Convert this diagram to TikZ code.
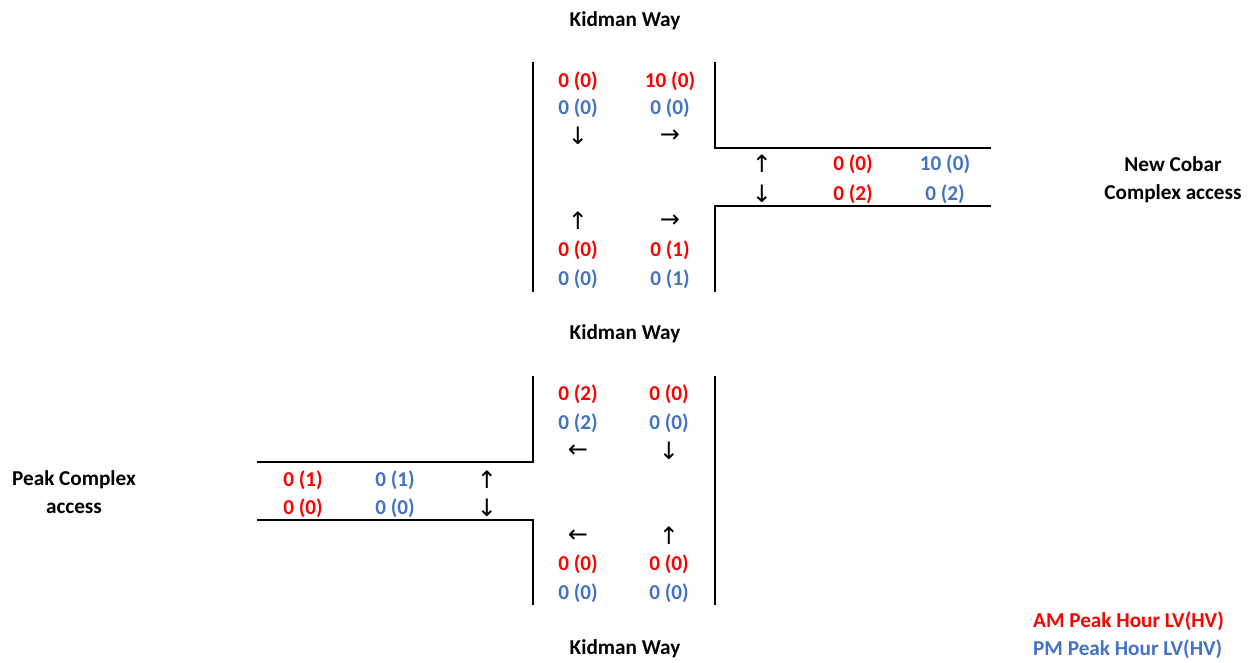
\documentclass[tikz,border=0pt]{standalone}
\usepackage{fontspec}
\setmainfont{Carlito}
\newfontfamily\arrowfont{DejaVu Sans}
\definecolor{amred}{HTML}{FF0000}
\definecolor{pmblue}{HTML}{4472C4}
\begin{document}
\begin{tikzpicture}[x=1pt,y=-1pt,
  lbl/.style={inner sep=0pt,font=\fontsize{21.2}{25}\selectfont\bfseries},
  am/.style={lbl,text=amred},
  pm/.style={lbl,text=pmblue},
  dir/.style={inner sep=0pt,font=\fontsize{24}{26}\selectfont\arrowfont},
  road/.style={line width=2pt}]
\useasboundingbox (0,0) rectangle (1250,662);

% ---- northern intersection: Kidman Way with New Cobar Complex access ----
\draw[road] (533,62) -- (533,292);
\draw[road] (715,62) -- (715,148) -- (991,148);
\draw[road] (991,206) -- (715,206) -- (715,292);

\node[lbl] (kwTop) at (625,21) {Kidman Way};
\node[lbl] (kwMid) at (625,334) {Kidman Way};

\node[am] (nA1) at (578,81) {0 (0)};
\node[am] (nA2) at (670,81) {10 (0)};
\node[pm] (nP1) at (578,108) {0 (0)};
\node[pm] (nP2) at (670,108) {0 (0)};
\node[dir] (nD1) at (578,136) {↓};
\node[dir] (nD2) at (670,136) {→};

\node[dir] (sD1) at (578,221) {↑};
\node[dir] (sD2) at (670,221) {→};
\node[am] (sA1) at (578,250) {0 (0)};
\node[am] (sA2) at (670,250) {0 (1)};
\node[pm] (sP1) at (578,279) {0 (0)};
\node[pm] (sP2) at (670,279) {0 (1)};

\node[dir] (eD1) at (762,164) {↑};
\node[dir] (eD2) at (762,194) {↓};
\node[am] (eA1) at (853,164) {0 (0)};
\node[am] (eA2) at (853,194) {0 (2)};
\node[pm] (eP1) at (945,164) {10 (0)};
\node[pm] (eP2) at (945,194) {0 (2)};

\node[lbl] (ncA) at (1173,164) {New Cobar};
\node[lbl] (ncB) at (1173,194) {Complex access};

% ---- southern intersection: Kidman Way with Peak Complex access ----
\draw[road] (533,376) -- (533,462) -- (257,462);
\draw[road] (257,520) -- (533,520) -- (533,605);
\draw[road] (715,376) -- (715,605);

\node[lbl] (kwBot) at (625,649) {Kidman Way};

\node[am] (bA1) at (578,394) {0 (2)};
\node[am] (bA2) at (669,394) {0 (0)};
\node[pm] (bP1) at (578,423) {0 (2)};
\node[pm] (bP2) at (669,423) {0 (0)};
\node[dir] (bD1) at (578,451) {←};
\node[dir] (bD2) at (669,451) {↓};

\node[dir] (cD1) at (578,536) {←};
\node[dir] (cD2) at (669,536) {↑};
\node[am] (cA1) at (578,564) {0 (0)};
\node[am] (cA2) at (669,564) {0 (0)};
\node[pm] (cP1) at (578,593) {0 (0)};
\node[pm] (cP2) at (669,593) {0 (0)};

\node[am] (wA1) at (303,480) {0 (1)};
\node[am] (wA2) at (303,508) {0 (0)};
\node[pm] (wP1) at (395,480) {0 (1)};
\node[pm] (wP2) at (395,508) {0 (0)};
\node[dir] (wD1) at (487,480) {↑};
\node[dir] (wD2) at (487,508) {↓};

\node[lbl] (pcA) at (74,480) {Peak Complex};
\node[lbl] (pcB) at (74,508) {access};

% ---- legend ----
\node[am,anchor=west] (legAM) at (1033,621) {AM Peak Hour LV(HV)};
\node[pm,anchor=west] (legPM) at (1033,649) {PM Peak Hour LV(HV)};
\end{tikzpicture}
\end{document}
